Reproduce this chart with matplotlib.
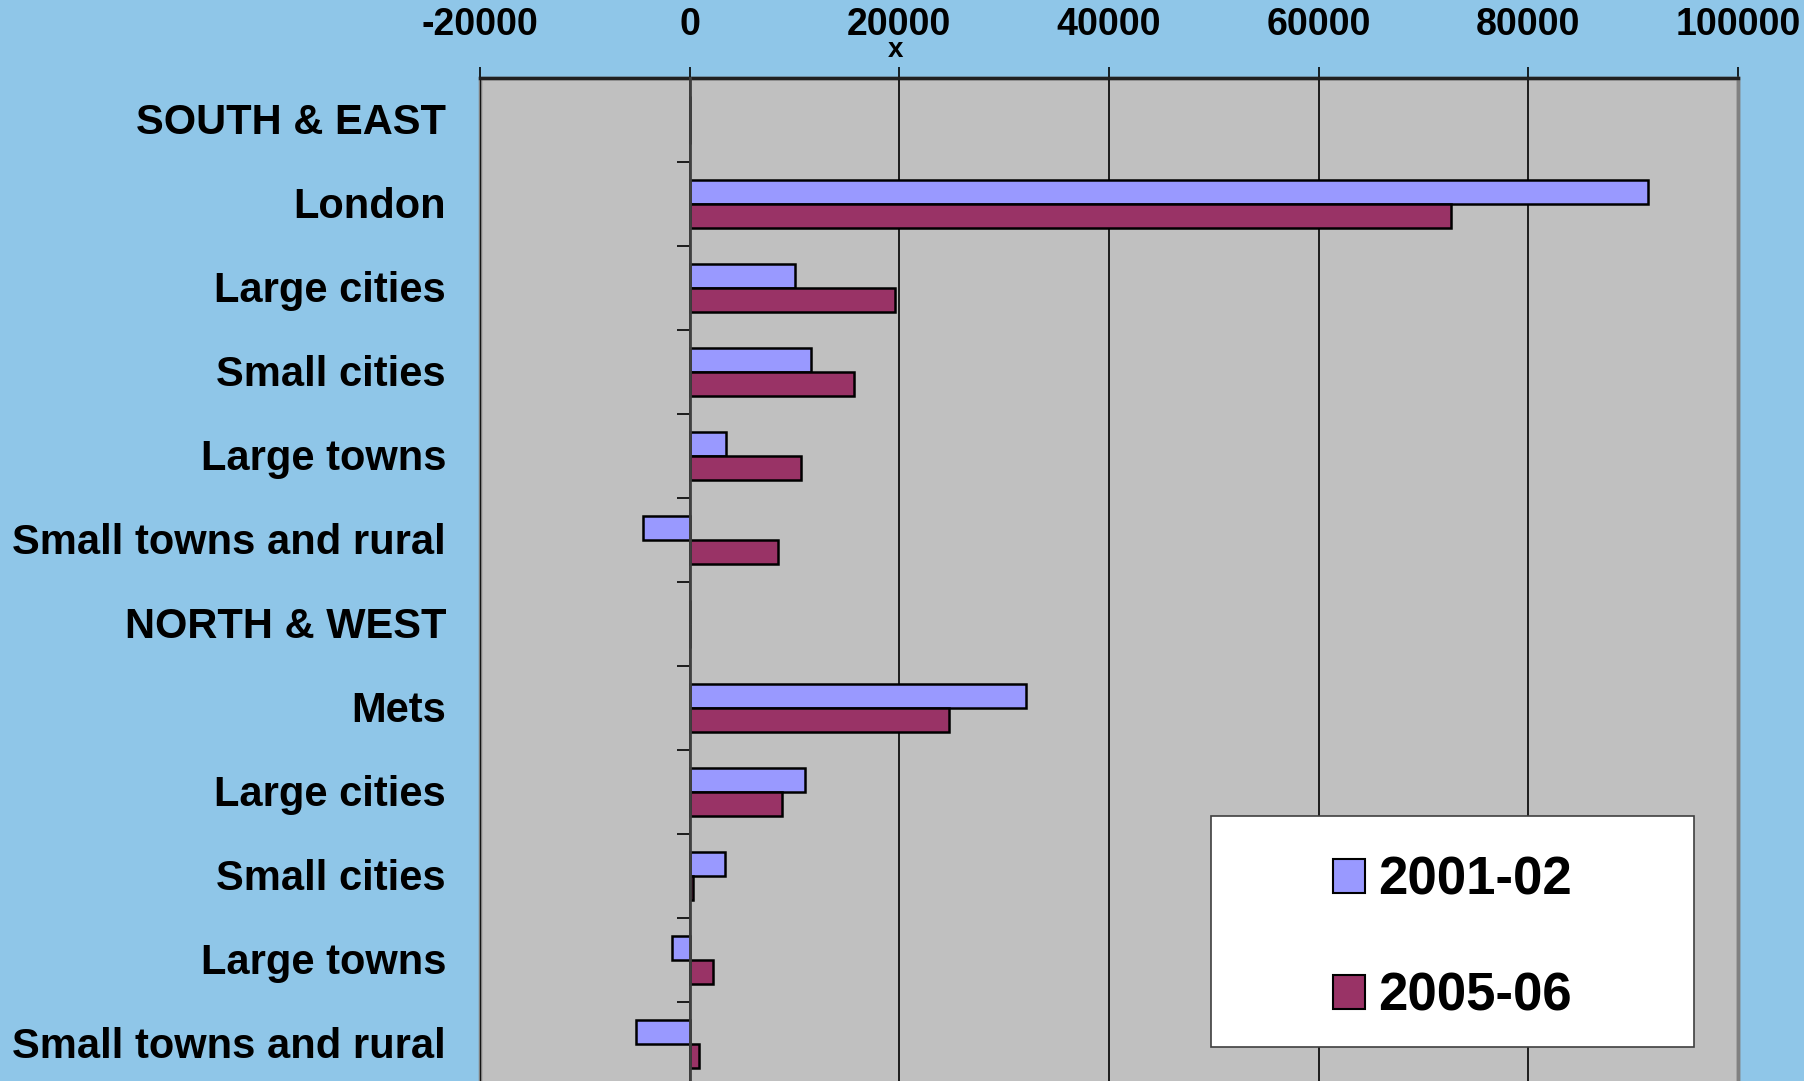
import matplotlib.pyplot as plt
from matplotlib.patches import Patch, Rectangle
from matplotlib.transforms import blended_transform_factory

# categories top to bottom
categories = ["SOUTH & EAST", "London", "Large cities", "Small cities", "Large towns",
              "Small towns and rural", "NORTH & WEST", "Mets", "Large cities",
              "Small cities", "Large towns", "Small towns and rural"]
vals_2001 = [0, 91400, 10000, 11550, 3450, -4480, 0, 32100, 11000, 3350, -1700, -5100]
vals_2005 = [0, 72600, 19550, 15650, 10600, 8450, 0, 24700, 8850, 300, 2200, 900]
xticks = [-20000, 0, 20000, 40000, 60000, 80000, 100000]

bg = "#8FC6E8"
col_2001 = "#9999FF"
col_2005 = "#993366"

plt.rcParams['font.family'] = ['Liberation Sans', 'DejaVu Sans']
plt.rcParams['font.weight'] = 'bold'

fig = plt.figure(figsize=(18.04, 10.81), dpi=100, facecolor=bg)
ax = fig.add_axes([0.2661, -0.0047, 0.6973, 0.9325])
ax.set_facecolor("#C0C0C0")

y = list(range(len(categories)))
h = 0.29
ax.barh([i - h / 2 for i in y], vals_2001, height=h, color=col_2001,
        edgecolor="black", linewidth=1.8, zorder=3)
ax.barh([i + h / 2 for i in y], vals_2005, height=h, color=col_2005,
        edgecolor="black", linewidth=1.8, zorder=3)

ax.set_xlim(-20000, 100000)
ax.set_ylim(len(categories) - 0.5, -0.5)
ax.set_xticks(xticks)
ax.set_xticklabels([str(v) for v in xticks], fontsize=27, fontweight='bold')
ax.xaxis.tick_top()
ax.tick_params(axis='x', direction='out', length=8, width=1.2, pad=17, color='black')
ax.grid(axis='x', color='black', linewidth=1.2, zorder=1)
ax.set_axisbelow(True)

# category axis crosses at zero
ax.spines['left'].set_position(('data', 0))
ax.spines['left'].set_color('#404040')
ax.spines['left'].set_linewidth(2)
ax.spines['left'].set_zorder(4)
ax.set_yticks([i + 0.5 for i in y[:-1]])
ax.set_yticklabels([])
ax.tick_params(axis='y', direction='out', length=9.5, width=1.2, color='black')
ax.spines['bottom'].set_visible(False)
ax.spines['right'].set_color('#808080')
ax.spines['right'].set_linewidth(2.5)
ax.spines['top'].set_color('#202020')
ax.spines['top'].set_linewidth(2.5)
ax.add_patch(Rectangle((0, 0), 1, 1, transform=ax.transAxes, fill=False,
                       ec='#808080', lw=2.5, zorder=0.5, clip_on=False))

trans = blended_transform_factory(ax.transAxes, ax.transData)
for i, name in enumerate(categories):
    ax.text(-0.027, i + 0.04, name, transform=trans, ha='right', va='center',
            fontsize=30, fontweight='bold')

fig.text(895 / 1804, 1 - 50 / 1081, "x", ha='center', va='center',
         fontsize=20, fontweight='bold')

# legend box
fig.patches.append(Rectangle((0.6713, 0.0315), 0.2677, 0.2137, transform=fig.transFigure,
                             facecolor='white', edgecolor='#404040', lw=1.2, zorder=2))
handles = [Patch(facecolor=col_2001, edgecolor='black', lw=1.5),
           Patch(facecolor=col_2005, edgecolor='black', lw=1.5)]
fig.legend(handles, ["2001-02", "2005-06"], loc='center',
           bbox_to_anchor=(0.6713 + 0.2677 / 2, 0.0315 + 0.2137 / 2 - 0.0065),
           frameon=False, prop={'size': 38, 'weight': 'bold'},
           handlelength=0.62, handleheight=0.6, handletextpad=0.25, labelspacing=1.25)

fig.savefig("out.png", dpi=100, facecolor=bg)
